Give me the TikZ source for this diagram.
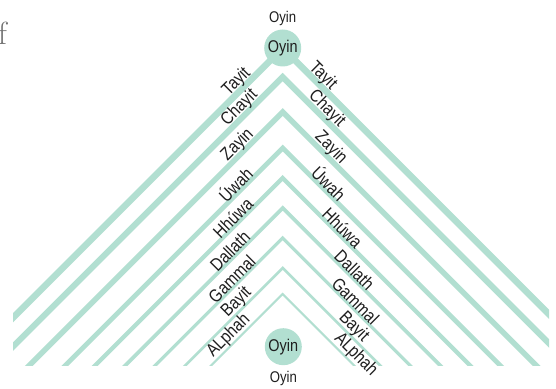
\documentclass[tikz,border=0pt]{standalone}
\usepackage{fontspec}
\newfontfamily\oyfont{Liberation Sans}[FakeStretch=0.85]
\usetikzlibrary{positioning}
\definecolor{oyMint}{HTML}{B2DFD1}
\definecolor{oyInk}{HTML}{1E1E1E}
\definecolor{oyGrey}{HTML}{6E6E6E}
\tikzset{
  chev/.style={draw=oyMint, line join=miter},
  oyword/.style={font={\oyfont\fontsize{15.5}{18}\selectfont}, text=oyInk, inner sep=1pt},
  armL/.style={oyword, font={\oyfont\fontsize{18}{20}\selectfont}, rotate=45, anchor=south, inner sep=0pt},
  armR/.style={oyword, font={\oyfont\fontsize{18}{20}\selectfont}, rotate=-45, anchor=south, inner sep=0pt},
  oyring/.style={oyword, font={\oyfont\fontsize{17}{20}\selectfont}, circle, fill=oyMint, minimum size=37pt, inner sep=0pt}
}

\begin{document}
\begin{tikzpicture}[x=1pt, y=1pt]
  \useasboundingbox (0,0) rectangle (556,388);

  % apexes of the nine chevrons
  \coordinate (t1) at (282.7,340);
  \coordinate (t2) at (282.7,311);
  \coordinate (t3) at (282.7,276);
  \coordinate (t4) at (282.7,240);
  \coordinate (t5) at (282.7,210);
  \coordinate (t6) at (282.7,180);
  \coordinate (t7) at (282.7,150);
  \coordinate (t8) at (282.7,120);
  \coordinate (t9) at (282.7,94);

  \begin{scope}
    \clip (13,23) rectangle (549,388);
    \draw[chev, line width=6.5pt] ([shift={(-340,-340)}]t1) -- (t1) -- ([shift={(340,-340)}]t1);
    \draw[chev, line width=6pt] ([shift={(-340,-340)}]t2) -- (t2) -- ([shift={(340,-340)}]t2);
    \draw[chev, line width=5.4pt] ([shift={(-340,-340)}]t3) -- (t3) -- ([shift={(340,-340)}]t3);
    \draw[chev, line width=4.8pt] ([shift={(-340,-340)}]t4) -- (t4) -- ([shift={(340,-340)}]t4);
    \draw[chev, line width=4.3pt] ([shift={(-340,-340)}]t5) -- (t5) -- ([shift={(340,-340)}]t5);
    \draw[chev, line width=3.7pt] ([shift={(-340,-340)}]t6) -- (t6) -- ([shift={(340,-340)}]t6);
    \draw[chev, line width=3.2pt] ([shift={(-340,-340)}]t7) -- (t7) -- ([shift={(340,-340)}]t7);
    \draw[chev, line width=2.6pt] ([shift={(-340,-340)}]t8) -- (t8) -- ([shift={(340,-340)}]t8);
    \draw[chev, line width=2.1pt] ([shift={(-340,-340)}]t9) -- (t9) -- ([shift={(340,-340)}]t9);
  \end{scope}

  % left arm names
  \node[armL] (tayitL)   at ([xshift=-40pt, yshift=-40pt]t1) {Tayit};
  \node[armL] (chayitL)  at ([xshift=-37pt, yshift=-37pt]t2) {Chayit};
  \node[armL] (zayinL)   at ([xshift=-39pt, yshift=-39pt]t3) {Zayin};
  \node[armL] (uwahL)    at ([xshift=-42pt, yshift=-42pt]t4) {Úwah};
  \node[armL] (hhuwaL)   at ([xshift=-45pt, yshift=-45pt]t5) {Hhúwa};
  \node[armL] (dallathL) at ([xshift=-48pt, yshift=-48pt]t6) {Dallath};
  \node[armL] (gammalL)  at ([xshift=-46pt, yshift=-46pt]t7) {Gammal};
  \node[armL] (bayitL)   at ([xshift=-40pt, yshift=-40pt]t8) {Bayit};
  \node[armL] (alphahL)  at ([xshift=-48pt, yshift=-48pt]t9) {ALphah};

  % right arm names
  \node[armR] (tayitR)   at ([xshift=34pt, yshift=-34pt]t1) {Tayit};
  \node[armR] (chayitR)  at ([xshift=38pt, yshift=-38pt]t2) {Chayit};
  \node[armR] (zayinR)   at ([xshift=42pt, yshift=-42pt]t3) {Zayin};
  \node[armR] (uwahR)    at ([xshift=41pt, yshift=-41pt]t4) {Úwah};
  \node[armR] (hhuwaR)   at ([xshift=55pt, yshift=-55pt]t5) {Hhúwa};
  \node[armR] (dallathR) at ([xshift=67pt, yshift=-67pt]t6) {Dallath};
  \node[armR] (gammalR)  at ([xshift=68pt, yshift=-68pt]t7) {Gammal};
  \node[armR] (bayitR)   at ([xshift=65pt, yshift=-65pt]t8) {Bayit};
  \node[armR] (alphahR)  at ([xshift=67pt, yshift=-67pt]t9) {ALphah};

  % the two Oyin discs
  \node[oyring] (oyTop) at (t1) {Oyin};
  \node[oyword, above=2pt of oyTop] (oyTopName) {Oyin};
  \node[oyring] (oyBot) at (283.3,41.3) {Oyin};
  \node[oyword, below=5pt of oyBot] (oyBotName) {Oyin};

  \node[font=\fontsize{32}{32}\selectfont, text=oyGrey, anchor=base west, inner sep=0pt] (fcut) at (-2,343) {f};
\end{tikzpicture}
\end{document}
